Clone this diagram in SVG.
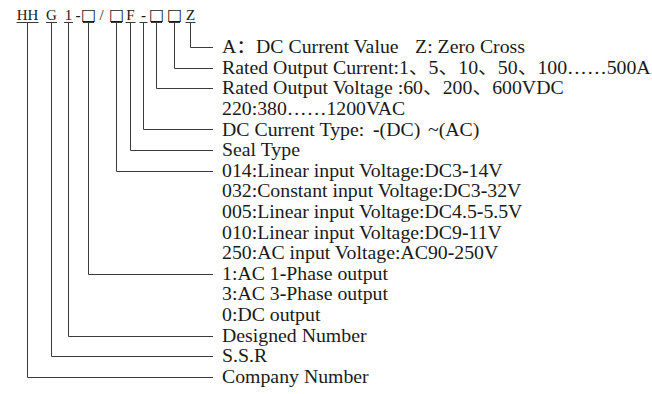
<svg xmlns="http://www.w3.org/2000/svg" width="652" height="394" viewBox="0 0 652 394">
<style>
.h{font-family:"Liberation Serif","Times New Roman","Noto Sans CJK SC",serif;font-size:15px;fill:#1a1a1a;text-anchor:middle}
.box{font-family:"DejaVu Sans","Noto Sans CJK SC",sans-serif;font-size:16px;fill:#1a1a1a;text-anchor:middle}
.t{font-family:"Liberation Serif","Times New Roman","Noto Sans CJK SC",serif;font-size:18px;fill:#1a1a1a}
.b{font-weight:bold}
.ln{fill:none;stroke:#3a3a3a;stroke-width:1}
.ul{fill:none;stroke:#3a3a3a;stroke-width:1}
</style>
<rect width="652" height="394" fill="#ffffff"/>
<g id="code">
<text class="h" x="27.5" y="19.5">HH</text>
<text class="h" x="51.5" y="19.5">G</text>
<text class="h" x="68.5" y="19.5">1</text>
<text class="h b" x="78" y="19.5">-</text>
<text class="box" x="88.5" y="20">□</text>
<text class="h" x="101.5" y="19.5">/</text>
<text class="box" x="116.5" y="20">□</text>
<text class="h" x="130.5" y="19.5">F</text>
<text class="h b" x="143.5" y="19.5">-</text>
<text class="box" x="156.5" y="20">□</text>
<text class="box" x="174.5" y="20">□</text>
<text class="h" x="190.5" y="19.5">Z</text>
<path class="ul" d="M16.5 22.5H38.5M46 22.5H57M64 22.5H73M83 22.5H94M111 22.5H122M125.5 22.5H135.5M139.5 22.5H147.5M151 22.5H162M169 22.5H180M185.5 22.5H195.5"/>
</g>
<g id="connectors">
<path class="ln" d="M190.5 22.5V47.5H213"/>
<path class="ln" d="M174.5 22.5V68.5H213"/>
<path class="ln" d="M156.5 22.5V88.5H213"/>
<path class="ln" d="M143.5 22.5V129.5H213"/>
<path class="ln" d="M130.5 22.5V150.5H213"/>
<path class="ln" d="M116.5 22.5V171.5H213"/>
<path class="ln" d="M88.5 22.5V274.5H213"/>
<path class="ln" d="M68.5 22.5V336.5H213"/>
<path class="ln" d="M51.5 22.5V356.5H213"/>
<path class="ln" d="M27.5 22.5V377.5H213"/>
</g>
<g id="labels" transform="translate(222 0) scale(1.1 1)">
<g id="row-z"><text class="t" x="0" y="53.5">A：DC Current Value<tspan dx="15">Z: Zero Cross</tspan></text></g>
<g id="row-current"><text class="t" x="0" y="74">Rated Output Current:1、5、10、50、100……500A</text></g>
<g id="row-voltage"><text class="t" x="0" y="94.5">Rated Output Voltage :60、200、600VDC</text>
<text class="t" x="0" y="115">220:380……1200VAC</text></g>
<g id="row-dctype"><text class="t" x="0" y="136">DC Current Type:<tspan class="b" dx="8">-</tspan>(DC)<tspan dx="7">~(AC)</tspan></text></g>
<g id="row-seal"><text class="t" x="0" y="156.5">Seal Type</text></g>
<g id="row-input"><text class="t" x="0" y="177">014:Linear input Voltage:DC3<tspan class="b">-</tspan>14V</text>
<text class="t" x="0" y="197.5">032:Constant input Voltage:DC3<tspan class="b">-</tspan>32V</text>
<text class="t" x="0" y="218">005:Linear input Voltage:DC4.5<tspan class="b">-</tspan>5.5V</text>
<text class="t" x="0" y="239">010:Linear input Voltage:DC9<tspan class="b">-</tspan>11V</text>
<text class="t" x="0" y="259.5">250:AC input Voltage:AC90<tspan class="b">-</tspan>250V</text></g>
<g id="row-output"><text class="t" x="0" y="280">1:AC 1<tspan class="b">-</tspan>Phase output</text>
<text class="t" x="0" y="300.5">3:AC 3<tspan class="b">-</tspan>Phase output</text>
<text class="t" x="0" y="321">0:DC output</text></g>
<g id="row-designed"><text class="t" x="0" y="342">Designed Number</text></g>
<g id="row-ssr"><text class="t" x="0" y="362.5">S.S.R</text></g>
<g id="row-company"><text class="t" x="0" y="383">Company Number</text></g>
</g>
</svg>
